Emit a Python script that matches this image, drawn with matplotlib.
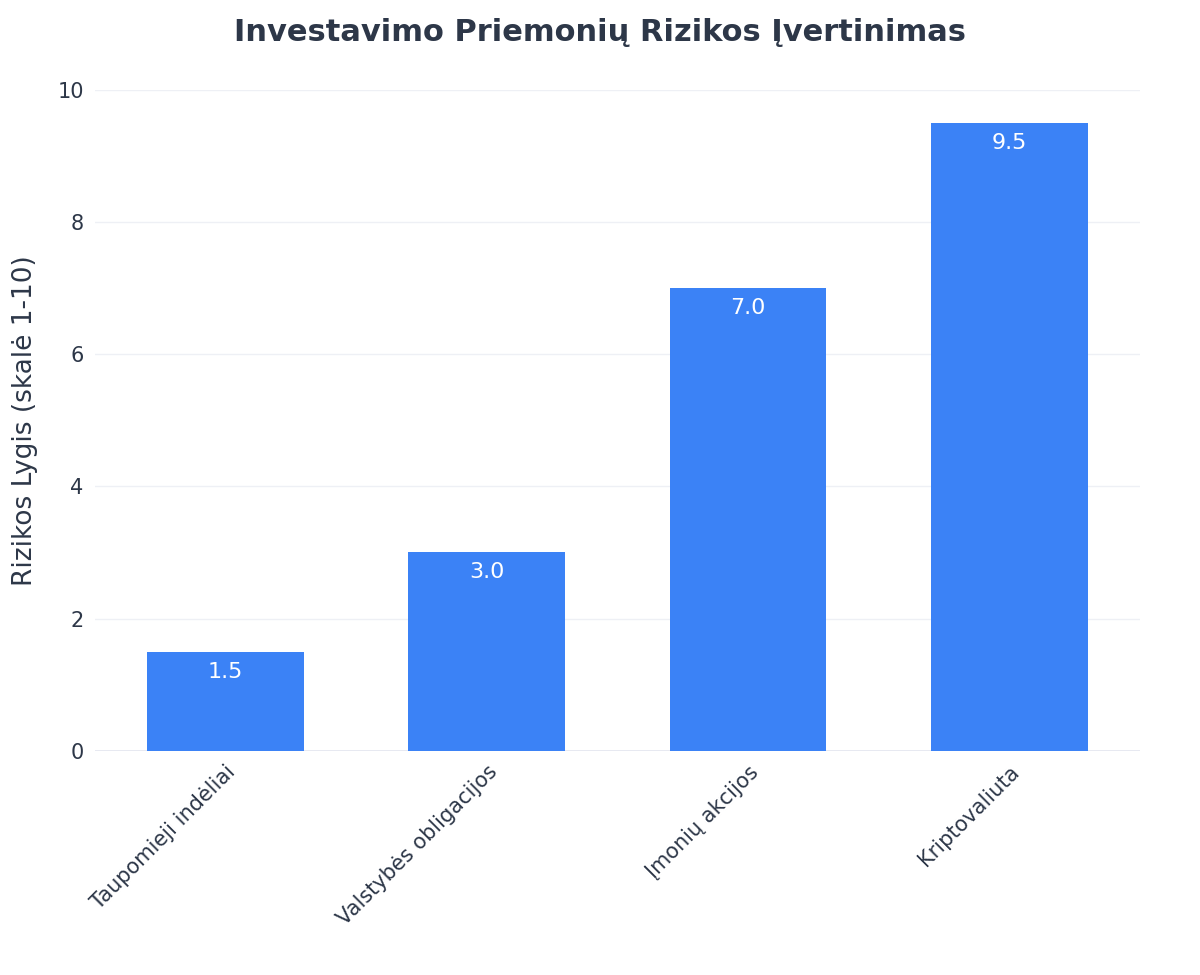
import matplotlib
matplotlib.use("Agg")
import matplotlib.pyplot as plt

categories = ["Taupomieji indėliai", "Valstybės obligacijos", "Įmonių akcijos", "Kriptovaliuta"]
values = [1.5, 3.0, 7.0, 9.5]
yticks = [0, 2, 4, 6, 8, 10]

fig = plt.figure(figsize=(12, 9.75), dpi=100)
ax = fig.add_axes([0.079, 0.230, 0.871, 0.678])
x = range(len(categories))
bars = ax.bar(x, values, width=0.6, color="#3b82f6", zorder=3)
for xi, v in zip(x, values):
    ax.text(xi, v - 0.15, f"{v:.1f}", ha="center", va="top", color="white", fontsize=16, zorder=4)
ax.set_xlim(-0.5, 3.5)
ax.set_ylim(0, 10)
ax.set_yticks(yticks)
ax.set_yticklabels([str(t) for t in yticks], fontsize=15, color="#2d3748")
ax.set_xticks(list(x))
ax.set_xticklabels(categories, rotation=45, ha="right", rotation_mode="anchor", fontsize=15, color="#2d3748")
ax.tick_params(length=0, pad=8)
ax.grid(axis="y", color="#eef0f5", linewidth=1, zorder=0)
for s in ax.spines.values():
    s.set_visible(False)
ax.axhline(0, color="#e5e7f0", linewidth=2, zorder=2)
ax.set_ylabel("Rizikos Lygis (skalė 1-10)", fontsize=19, color="#2d3748", labelpad=14)
fig.text(0.5, 0.967, "Investavimo Priemonių Rizikos Įvertinimas", ha="center", va="center",
         fontsize=22, fontweight="bold", color="#2d3748")
fig.savefig("out.png", dpi=100, facecolor="white")
